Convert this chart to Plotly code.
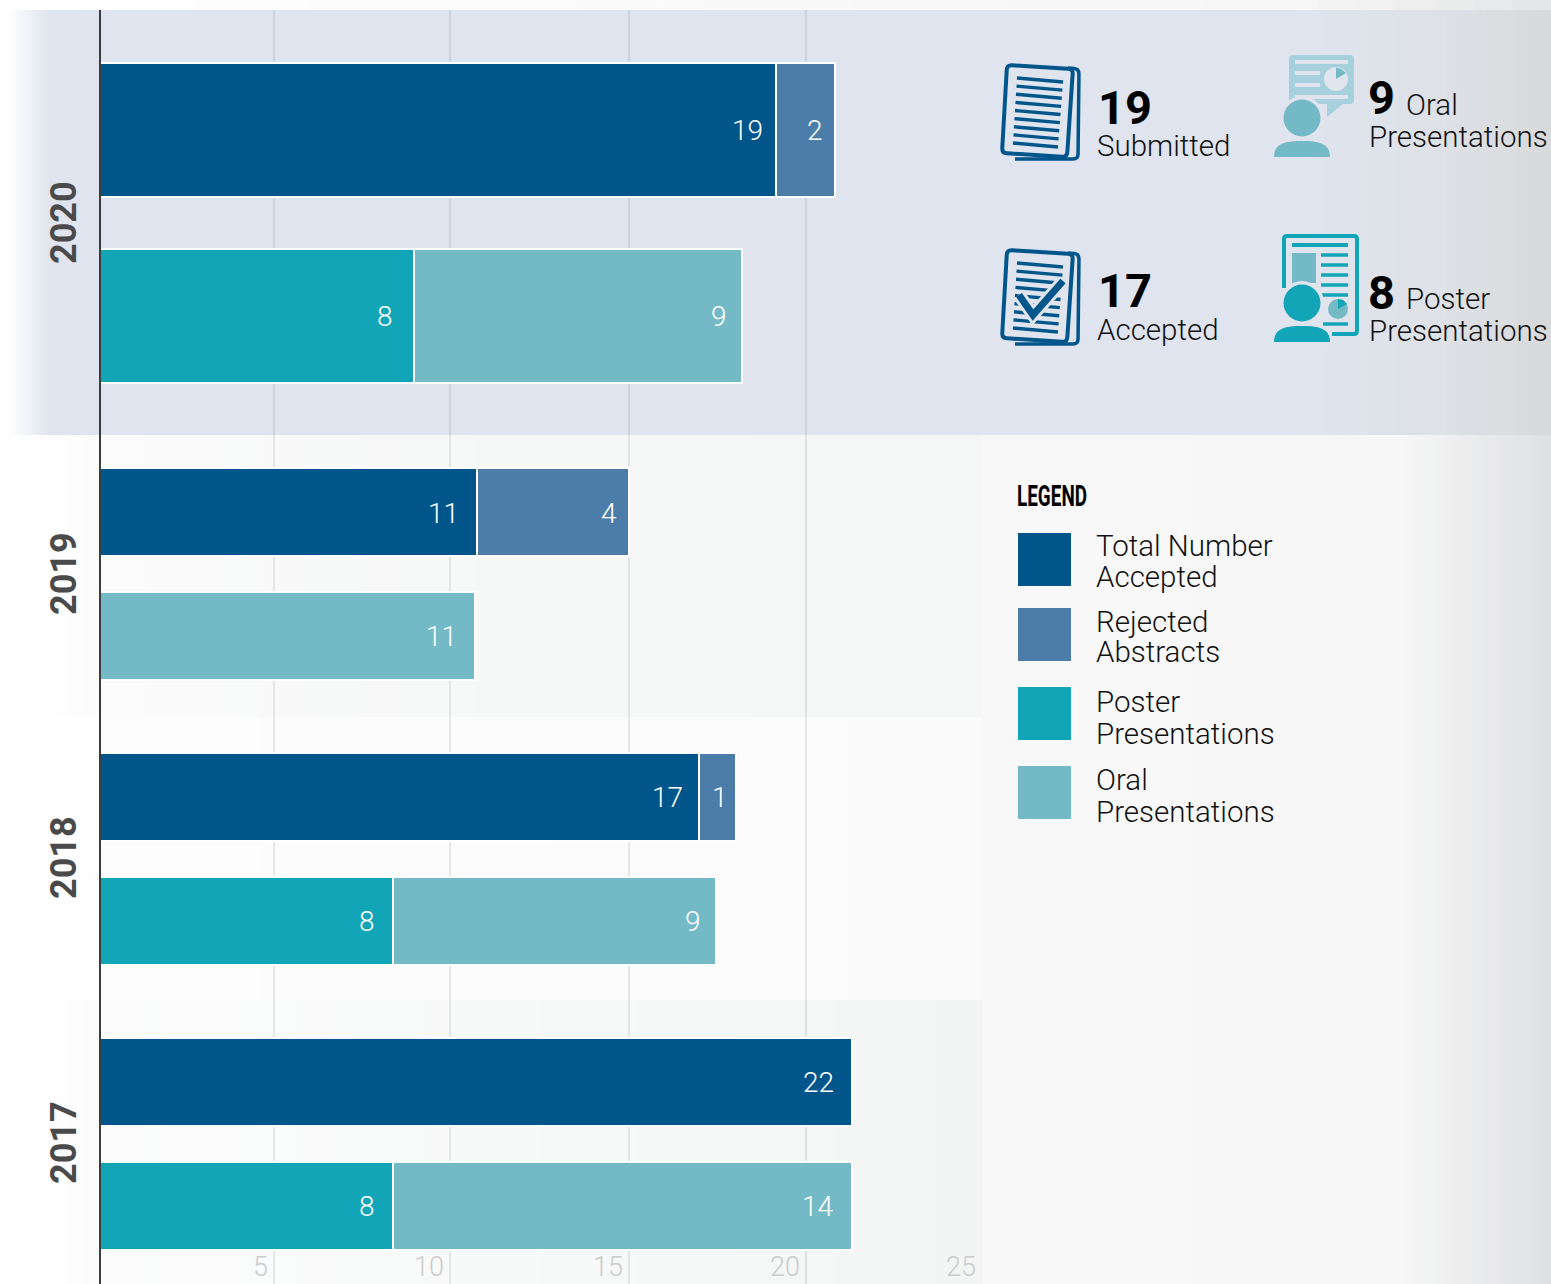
import math
import plotly.graph_objects as go

# ---------- data ----------
years = ["2020", "2019", "2018", "2017"]
total_accepted_len = [19.15, 10.68, 16.97, 21.31]
rejected_len = [1.67, 4.31, 1.05, None]
poster_len = [8.89, None, 8.30, 8.30]
oral_len = [9.30, 10.62, 9.16, 13.01]
total_accepted_lbl = ["19", "11", "17", "22"]
rejected_lbl = ["2", "4", "1", None]
poster_lbl = ["8", None, "8", "8"]
oral_lbl = ["9", "11", "9", "14"]
tick_vals = [4.93, 9.92, 15, 20, 25]
tick_text = ["5", "10", "15", "20", "25"]
legend_names = [["Total Number", "Accepted"], ["Rejected", "Abstracts"],
                ["Poster", "Presentations"], ["Oral", "Presentations"]]

# ---------- layout constants ----------
W, H = 1551, 1284
NAVY, STEEL, TEAL, AQUA = "#00568B", "#4C7DA9", "#12A5B7", "#74B9C6"
BG = "#DFE4EE"
FONT = "Roboto"
row_a = [129.5, 512, 796.5, 1081.5]
row_b = [315.5, 635.5, 920.5, 1205.5]
row_w = [134, 88, 88, 88]
year_y = [223, 574, 858, 1143]

def px(x): return x / W
def py(y): return 1 - y / H
def hex2(c): return [int(c[i:i + 2], 16) for i in (1, 3, 5)]

shapes, annos = [], []

def rect(x0, y0, x1, y1, color, layer="below"):
    shapes.append(dict(type="rect", xref="paper", yref="paper", x0=px(x0), x1=px(x1),
                       y0=py(y0), y1=py(y1), fillcolor=color, line=dict(width=0), layer=layer))

def grad(x0, x1, y0, y1, stops, n=40):
    """horizontal gradient made from thin strips; stops = [(x, colour), ...]"""
    step = (x1 - x0) / n
    for i in range(n):
        xa, xb = x0 + i * step, x0 + (i + 1) * step + 0.6
        xm = x0 + (i + .5) * step
        c = hex2(stops[0][1]) if xm < stops[0][0] else hex2(stops[-1][1])
        for (s0, c0), (s1, c1) in zip(stops, stops[1:]):
            if s0 <= xm <= s1:
                t = (xm - s0) / (s1 - s0)
                a, b = hex2(c0), hex2(c1)
                c = [round(a[k] + (b[k] - a[k]) * t) for k in range(3)]
                break
        rect(xa, y0, min(xb, x1), y1, "rgb(%d,%d,%d)" % tuple(c))

def line(x0, y0, x1, y1, color, w):
    shapes.append(dict(type="line", xref="paper", yref="paper", x0=px(x0), x1=px(x1), y0=py(y0), y1=py(y1),
                       line=dict(color=color, width=w), layer="above"))

def path(pts, fill=None, stroke=None, w=0, close=True, raw=None):
    d = raw if raw else "M " + " L ".join(f"{px(a):.5f},{py(b):.5f}" for a, b in pts) + (" Z" if close else "")
    shapes.append(dict(type="path", xref="paper", yref="paper", path=d,
                       fillcolor=fill if fill else "rgba(0,0,0,0)",
                       line=dict(color=stroke if stroke else "rgba(0,0,0,0)", width=w), layer="above"))

def rounded(pts, r, fill=None, stroke=None, w=0, close=True):
    """polygon/polyline with rounded corners"""
    n = len(pts)
    def toward(a, b, d):
        L = math.hypot(b[0] - a[0], b[1] - a[1])
        return (a[0] + (b[0] - a[0]) * d / L, a[1] + (b[1] - a[1]) * d / L)
    def P(p): return f"{px(p[0]):.5f},{py(p[1]):.5f}"
    if close:
        idx = list(range(n))
        s = toward(pts[0], pts[1], r)
        d = f"M {P(s)}"
        for i in idx[1:] + [0]:
            p, a, b = pts[i], pts[i - 1], pts[(i + 1) % n]
            d += f" L {P(toward(p, a, r))} Q {P(p)} {P(toward(p, b, r))}"
        d += " Z"
    else:
        d = f"M {P(pts[0])}"
        for i in range(1, n - 1):
            d += f" L {P(toward(pts[i], pts[i - 1], r))} Q {P(pts[i])} {P(toward(pts[i], pts[i + 1], r))}"
        d += f" L {P(pts[-1])}"
    path(None, fill=fill, stroke=stroke, w=w, raw=d)

def circle(cx, cy, r, fill):
    shapes.append(dict(type="circle", xref="paper", yref="paper", x0=px(cx - r), x1=px(cx + r),
                       y0=py(cy + r), y1=py(cy - r), fillcolor=fill, line=dict(width=0), layer="above"))

def body(x0, x1, top, bottom, fill):
    m = (x0 + x1) / 2
    d = (f"M {px(x0)},{py(bottom)} C {px(x0)},{py(top + 2)} {px(x0 + 12)},{py(top)} {px(m)},{py(top)} "
         f"C {px(x1 - 12)},{py(top)} {px(x1)},{py(top + 2)} {px(x1)},{py(bottom)} Z")
    path(None, fill=fill, raw=d)

def text(x, y, s, size, color="#111111", weight=300, anchor="left", family=FONT):
    annos.append(dict(xref="paper", yref="paper", x=px(x), y=py(y), text=s, showarrow=False,
                      xanchor=anchor, yanchor="middle", borderpad=0, align="left",
                      font=dict(family=family, size=size, color=color, weight=weight)))

# ---------- backgrounds ----------
grad(0, W, 0, 10, [(0, "#FFFFFF"), (900, "#F8F8F8"), (1300, "#F6F6F6"), (W, "#E4E5E6")], n=40)
grad(0, 100, 10, 435, [(8, "#FFFFFF"), (50, BG), (100, BG)], n=50)
rect(100, 10, 1300, 435, BG)
grad(1300, W, 10, 435, [(1300, BG), (1440, "#DEE1E6"), (W, "#D8D9DB")], n=80)
grad(0, 982, 435, 717, [(40, "#FFFFFF"), (100, "#FBFBFB"), (520, "#F6F7F7"), (982, "#F5F6F6")], n=60)
grad(0, 982, 717, 1000, [(40, "#FFFFFF"), (100, "#FDFDFD"), (982, "#FAFAFA")], n=30)
grad(0, 982, 1000, 1284, [(40, "#FFFFFF"), (100, "#FCFCFC"), (500, "#F8F9F9"), (982, "#F3F4F4")], n=60)
grad(982, W, 435, 1284, [(982, "#F8F8F8"), (1400, "#F7F7F7"), (W, "#DFE0E2")], n=100)

# ---------- bars ----------
fig = go.Figure()
for name, vals, ys, col in [("Total Number Accepted", total_accepted_len, row_a, NAVY),
                            ("Rejected Abstracts", rejected_len, row_a, STEEL),
                            ("Poster Presentations", poster_len, row_b, TEAL),
                            ("Oral Presentations", oral_len, row_b, AQUA)]:
    fig.add_bar(name=name, x=vals, y=ys, width=row_w, orientation="h",
                marker=dict(color=col, line=dict(color="#FFFFFF", width=2)), hoverinfo="skip")

def bar_labels(lbls, vals, base, ys, shifts):
    for i, s in enumerate(lbls):
        if s is None:
            continue
        end = (base[i] or 0) + vals[i] if base else vals[i]
        annos.append(dict(xref="x", yref="y", x=end, y=ys[i], text=s, showarrow=False,
                          xanchor="right", yanchor="middle", xshift=shifts[i], yshift=-1, borderpad=0,
                          font=dict(family=FONT, size=28, color="#FFFFFF", weight=300)))

bar_labels(total_accepted_lbl, total_accepted_len, None, row_a, [-12, -17, -15, -17])
bar_labels(rejected_lbl, rejected_len, total_accepted_len, row_a, [-11, -11, -7, 0])
bar_labels(poster_lbl, poster_len, None, row_b, [-20, 0, -17, -17])
bar_labels(oral_lbl, oral_len, poster_len, row_b, [-14, -17, -14, -17])

# axis tick labels and year labels
for v, s in zip(tick_vals, tick_text):
    annos.append(dict(xref="x", yref="paper", x=v, y=py(1266.5), text=s, showarrow=False, xanchor="right",
                      yanchor="middle", xshift=-5, borderpad=0,
                      font=dict(family=FONT, size=27, color="#CBCBCB", weight=300)))
for yr, yy in zip(years, year_y):
    annos.append(dict(xref="paper", yref="paper", x=px(64), y=py(yy), text=yr, showarrow=False, textangle=-90,
                      xanchor="center", yanchor="middle", borderpad=0,
                      font=dict(family=FONT, size=36, color="#4A4A4A", weight=700)))

# vertical base line of the value axis, over the bar outlines
line(100, 10, 100, H, "#3C3C3C", 2)

# ---------- legend ----------
text(1072, 495, "LEGEND", 30, color="#000000", weight=700, anchor="center")
swatch_y = [533, 608, 687, 766]
line_y = [(546, 577), (622, 652), (702, 734), (780, 812)]
for names, col, sy, (l1, l2) in zip(legend_names, [NAVY, STEEL, TEAL, AQUA], swatch_y, line_y):
    rect(1018, sy, 1071, sy + 53, col, layer="above")
    text(1095, l1, names[0], 29.5)
    text(1095, l2, names[1], 29.5)

# ---------- stat block ----------
text(1097, 107, "19", 47, color="#000000", weight=700)
text(1096, 146.5, "Submitted", 29.5)
text(1097, 291, "17", 47, color="#000000", weight=700)
text(1096, 330.5, "Accepted", 29.5)
text(1367, 98, "9", 47, color="#000000", weight=700)
text(1405, 105, "Oral", 29.5)
text(1368, 137.5, "Presentations", 29.5)
text(1367, 292, "8", 47, color="#000000", weight=700)
text(1405, 299, "Poster", 29.5)
text(1368, 331.5, "Presentations", 29.5)

# ---------- icons ----------
def document(dy, check=False):
    rounded([(1068, 68 + dy), (1079, 69 + dy), (1078, 159 + dy), (1015, 159 + dy)], 5, stroke=NAVY, w=3.5, close=False)
    rounded([(1007, 65 + dy), (1073, 69 + dy), (1067, 157 + dy), (1002, 153 + dy)], 5, fill=BG, stroke=NAVY, w=4)
    for i in range(9):
        t = i / 8
        line(1017 - 4 * t, 78 + dy + 65 * t, 1063 - 5 * t, 82 + dy + 65 * t, NAVY, 3.4)
    if check:
        chk = [(1019, 295), (1033, 315), (1063, 281)]
        path(chk, stroke=BG, w=13, close=False)
        path(chk, stroke=NAVY, w=7, close=False)

document(0)
document(185, check=True)

# oral icon
BUB = "#A6D1DC"
rounded([(1289, 55), (1354, 55), (1354, 104), (1289, 104)], 4, fill=BUB)
path([(1327, 103), (1327, 117), (1344, 103)], fill=BUB)
for x0, x1, y in [(1295, 1348, 62), (1295, 1320, 73), (1295, 1320, 85), (1295, 1348, 97)]:
    line(x0, y, x1, y, BG, 4)
circle(1336, 79, 12, BG)
path([(1336, 79), (1336, 67.5), (1341, 69), (1346, 73)], fill=AQUA)
circle(1302, 118, 22, BG)
circle(1302, 118, 18.5, AQUA)
body(1274, 1330, 141, 157, AQUA)

# poster icon
rounded([(1284, 236), (1357, 236), (1357, 334), (1284, 334)], 3, stroke=TEAL, w=4)
path([(1278, 288), (1332, 288), (1332, 346), (1278, 346)], fill=BG)
line(1292, 245, 1348, 245, TEAL, 4)
rect(1292, 253, 1316, 283, AQUA, layer="above")
for y in [255, 265, 275, 285, 295]:
    line(1321, y, 1348, y, TEAL, 3.5)
line(1323, 324, 1348, 324, TEAL, 3.5)
circle(1338, 309, 10, AQUA)
path([(1338, 309), (1338, 299), (1343, 300), (1347, 304)], fill=TEAL)
circle(1302, 303, 22, BG)
circle(1302, 303, 18.5, TEAL)
body(1274, 1330, 326, 342, TEAL)

# ---------- layout ----------
fig.update_layout(
    width=W, height=H, margin=dict(l=0, r=0, t=0, b=0), barmode="stack", bargap=0,
    paper_bgcolor="#FFFFFF", plot_bgcolor="rgba(0,0,0,0)", showlegend=False,
    shapes=shapes, annotations=annos, font=dict(family=FONT),
    xaxis=dict(domain=[px(100), px(982)], range=[0, 25], tickvals=tick_vals, showticklabels=False, ticks="",
               showgrid=True, gridcolor="rgba(110,115,135,0.15)", gridwidth=2, zeroline=False, showline=False,
               fixedrange=True),
    yaxis=dict(domain=[0, py(10)], range=[1284, 10], showticklabels=False, ticks="", showgrid=False,
               zeroline=False, showline=False, fixedrange=True),
)
# the reference's legend heading is a condensed face; squeeze the real text to its width
squeeze = """
document.body.style.margin='0';
function squeezeLegend(){document.querySelectorAll('.annotation-text').forEach(function(t){
  if(t.textContent==='LEGEND'){t.setAttribute('textLength','70');t.setAttribute('lengthAdjust','spacingAndGlyphs');}
});}
squeezeLegend();setTimeout(squeezeLegend,50);setTimeout(squeezeLegend,300);
"""
fig.write_html("out.html", config=dict(displayModeBar=False), post_script=squeeze)
